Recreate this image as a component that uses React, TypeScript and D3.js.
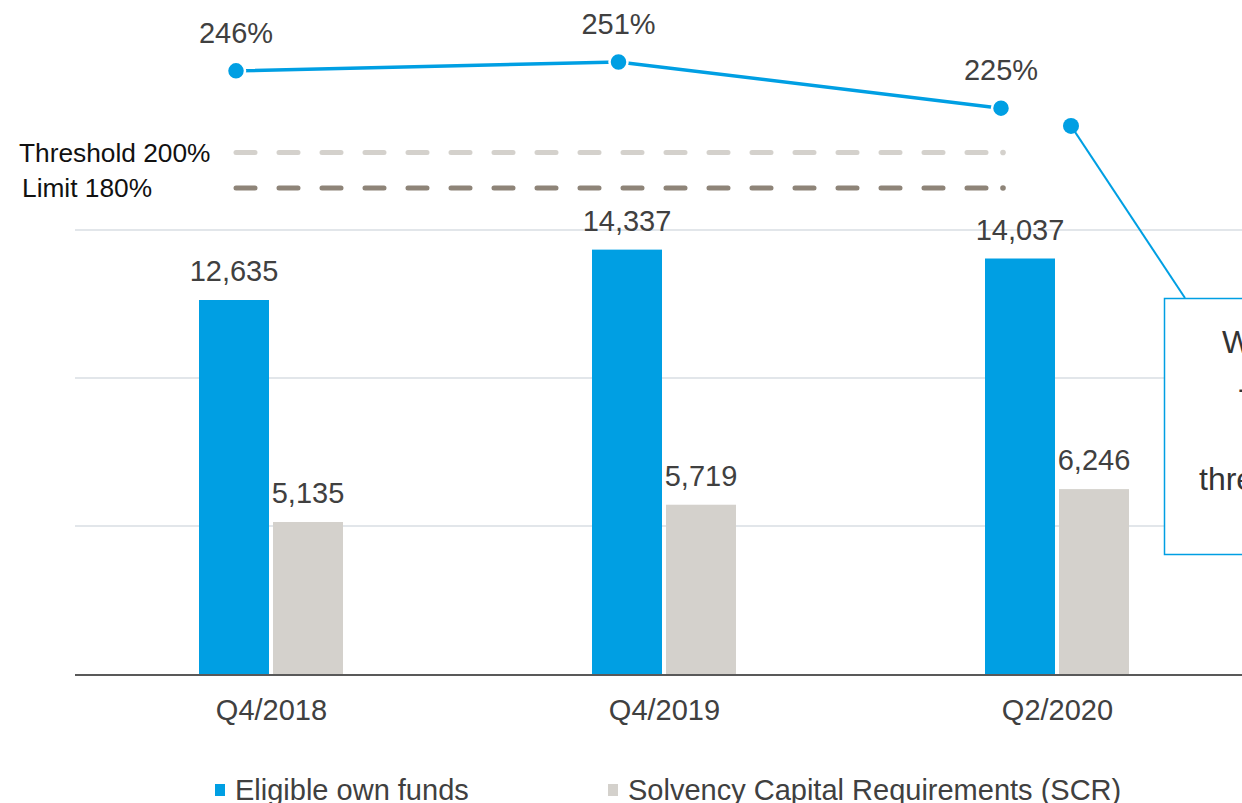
import * as d3 from "d3";
import { useEffect, useRef } from "react";

const categories = ["Q4/2018", "Q4/2019", "Q2/2020"];
const ownFunds = [12635, 14337, 14037];
const scr = [5135, 5719, 6246];
const ratio = [246, 251, 225];
const thresholdValue = 200;
const limitValue = 180;
const pointerRatio = 215;
const calloutLines = ["Well above", "-", "", "threshold"];
const yTicks = [0, 5000, 10000, 15000];

const BLUE = "#009FE3";
const GREY = "#D4D1CC";
const DARK = "#8E8478";
const TEXT = "#404040";
const FONT = "Arial, 'Liberation Sans', sans-serif";

export default function App() {
  const ref = useRef<SVGSVGElement | null>(null);

  useEffect(() => {
    const width = 1242;
    const height = 803;
    const svg = d3.select(ref.current);
    svg.selectAll("*").remove();
    svg.attr("width", width).attr("height", height).style("font-family", FONT);

    // bar scales
    const x0 = d3.scaleBand<string>().domain(categories).range([75, 75 + 393 * categories.length]);
    const x1 = d3.scaleBand<string>().domain(["own", "scr"]).range([124, 268]).paddingInner(4 / 74);
    const y = d3.scaleLinear().domain([0, 15000]).range([674, 230]);

    // ratio line scales
    const xr = d3.scalePoint<string>().domain(categories).range([236, 1001]);
    const yr = d3.scaleLinear().domain([limitValue, 251]).range([188, 62]);

    // gridlines
    svg.append("g")
      .selectAll("line")
      .data(yTicks.slice(1))
      .join("line")
      .attr("x1", 75)
      .attr("x2", width)
      .attr("y1", (d) => y(d))
      .attr("y2", (d) => y(d))
      .attr("stroke", "#D9DEE3")
      .attr("stroke-width", 1.5);

    // bars
    const groups = svg.append("g")
      .selectAll("g")
      .data(categories)
      .join("g")
      .attr("transform", (d) => `translate(${x0(d)},0)`);

    const barData = (i: number) => [
      { key: "own", value: ownFunds[i], color: BLUE },
      { key: "scr", value: scr[i], color: GREY },
    ];

    groups.each(function (_, i) {
      const g = d3.select(this);
      const items = barData(i);
      g.selectAll("rect")
        .data(items)
        .join("rect")
        .attr("x", (d) => x1(d.key)!)
        .attr("width", x1.bandwidth())
        .attr("y", (d) => y(d.value))
        .attr("height", (d) => y(0) - y(d.value))
        .attr("fill", (d) => d.color);
      g.selectAll("text")
        .data(items)
        .join("text")
        .attr("x", (d) => x1(d.key)! + x1.bandwidth() / 2)
        .attr("y", (d) => y(d.value) - 19)
        .attr("text-anchor", "middle")
        .attr("font-size", 29)
        .attr("fill", TEXT)
        .text((d) => d3.format(",")(d.value));
    });

    // x axis line + labels
    svg.append("line")
      .attr("x1", 75)
      .attr("x2", width)
      .attr("y1", y(0) + 1)
      .attr("y2", y(0) + 1)
      .attr("stroke", "#595959")
      .attr("stroke-width", 2);

    svg.append("g")
      .selectAll("text")
      .data(categories)
      .join("text")
      .attr("x", (d) => x0(d)! + x0.bandwidth() / 2)
      .attr("y", 720)
      .attr("text-anchor", "middle")
      .attr("font-size", 29)
      .attr("fill", TEXT)
      .text((d) => d);

    // threshold / limit dashed lines
    const refLines = [
      { label: `Threshold ${thresholdValue}%`, value: thresholdValue, color: GREY },
      { label: `Limit ${limitValue}%`, value: limitValue, color: DARK },
    ];
    refLines.forEach((r, i) => {
      svg.append("line")
        .attr("x1", 236)
        .attr("x2", 1003)
        .attr("y1", yr(r.value))
        .attr("y2", yr(r.value))
        .attr("stroke", r.color)
        .attr("stroke-width", 5)
        .attr("stroke-linecap", "round")
        .attr("stroke-dasharray", "19 24");
      svg.append("circle")
        .attr("cx", 1003)
        .attr("cy", yr(r.value))
        .attr("r", 2.8)
        .attr("fill", r.color);
      svg.append("text")
        .attr("x", i === 0 ? 19 : 22)
        .attr("y", yr(r.value) + 9)
        .attr("font-size", 26.3)
        .attr("fill", "#111")
        .text(r.label);
    });

    // ratio line
    const line = d3.line<number>()
      .x((_, i) => xr(categories[i])!)
      .y((d) => yr(d));
    svg.append("path")
      .datum(ratio)
      .attr("fill", "none")
      .attr("stroke", BLUE)
      .attr("stroke-width", 3.5)
      .attr("d", line);

    svg.append("g")
      .selectAll("circle")
      .data(ratio)
      .join("circle")
      .attr("cx", (_, i) => xr(categories[i])!)
      .attr("cy", (d) => yr(d))
      .attr("r", 9)
      .attr("fill", BLUE)
      .attr("stroke", "white")
      .attr("stroke-width", 2.5);

    svg.append("g")
      .selectAll("text")
      .data(ratio)
      .join("text")
      .attr("x", (_, i) => xr(categories[i])!)
      .attr("y", (d) => yr(d) - 28)
      .attr("text-anchor", "middle")
      .attr("font-size", 29)
      .attr("fill", TEXT)
      .text((d) => `${d}%`);

    // callout with pointer
    const px = 1071;
    const py = yr(pointerRatio);
    svg.append("line")
      .attr("x1", px)
      .attr("y1", py)
      .attr("x2", 1185)
      .attr("y2", 298)
      .attr("stroke", BLUE)
      .attr("stroke-width", 2);
    svg.append("circle").attr("cx", px).attr("cy", py).attr("r", 8).attr("fill", BLUE);

    svg.append("rect")
      .attr("x", 1164.5)
      .attr("y", 298.5)
      .attr("width", 200)
      .attr("height", 256)
      .attr("fill", "white")
      .attr("stroke", BLUE)
      .attr("stroke-width", 1.5);

    const lineX = [1222, 1238, 1240, 1199];
    svg.append("g")
      .selectAll("text")
      .data(calloutLines)
      .join("text")
      .attr("x", (_, i) => lineX[i])
      .attr("y", (_, i) => 353 + i * 45.6)
      .attr("font-size", 32)
      .attr("fill", "#333")
      .text((d) => d);

    // legend
    const legend = [
      { label: "Eligible own funds", color: BLUE, x: 215 },
      { label: "Solvency Capital Requirements (SCR)", color: GREY, x: 608 },
    ];
    legend.forEach((l) => {
      svg.append("rect").attr("x", l.x).attr("y", 784).attr("width", 10).attr("height", 12).attr("fill", l.color);
      svg.append("text")
        .attr("x", l.x + 20)
        .attr("y", 800)
        .attr("font-size", 29)
        .attr("fill", TEXT)
        .text(l.label);
    });
  }, []);

  return <svg ref={ref} style={{ position: "absolute", left: 0, top: 0 }}></svg>;
}
